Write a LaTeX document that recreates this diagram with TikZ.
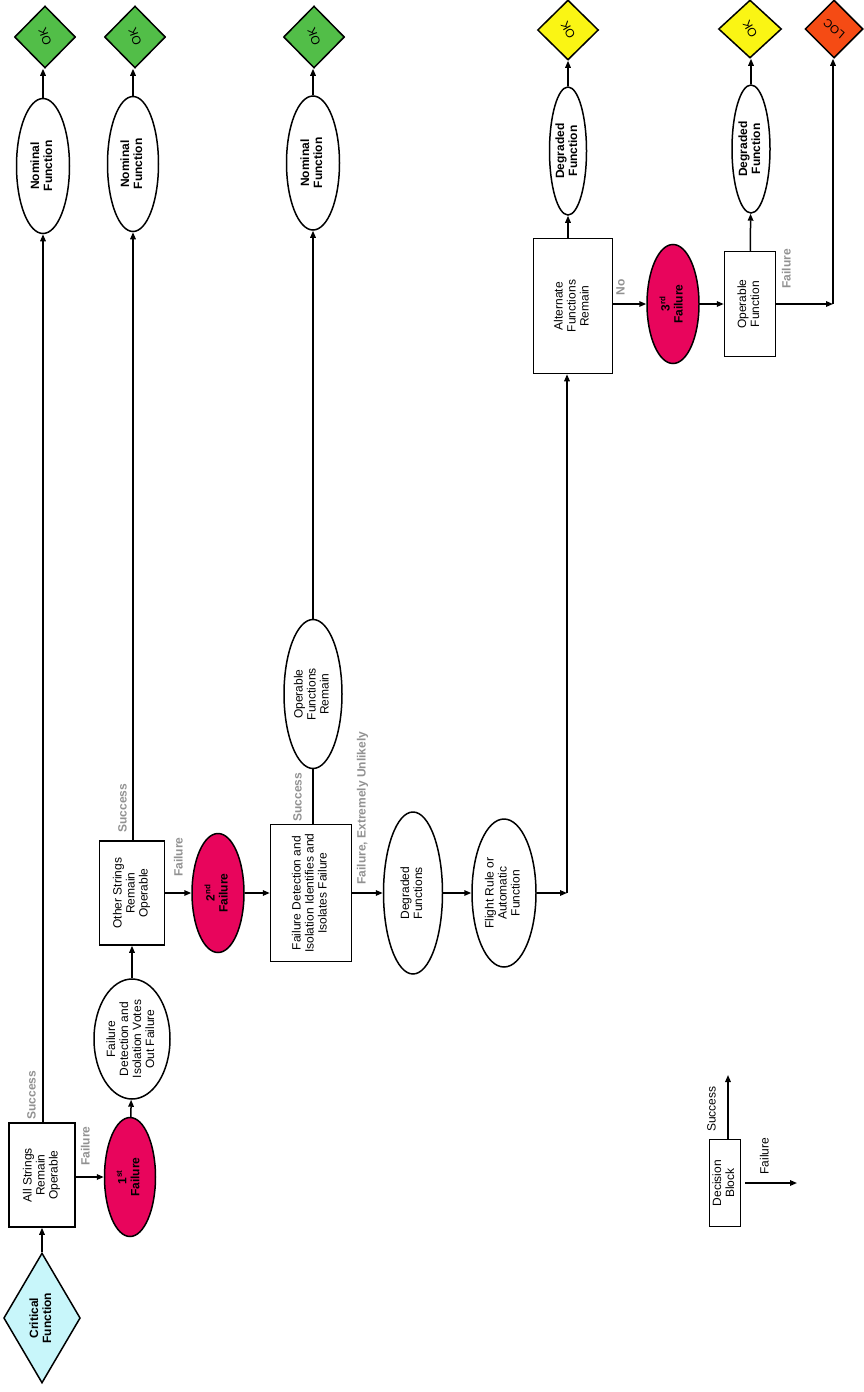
\documentclass[tikz,border=0pt]{standalone}
\usepackage{fontspec}
\setmainfont{Liberation Sans}
\usetikzlibrary{shapes.geometric,arrows.meta,calc}
\definecolor{cyanf}{RGB}{200,246,250}
\definecolor{greenf}{RGB}{82,190,72}
\definecolor{yellowf}{RGB}{250,245,20}
\definecolor{locf}{RGB}{245,75,20}
\definecolor{failf}{RGB}{232,5,92}
\definecolor{lblgray}{RGB}{145,145,145}
\newcommand\rt[1]{\rotatebox{90}{\begin{tabular}{@{}c@{}}#1\end{tabular}}}
\newcommand\rtok[2]{\rotatebox{#1}{#2}}
\begin{document}
\begin{tikzpicture}[x=1pt,y=-1pt,
  every node/.style={font=\fontsize{12}{13}\selectfont, inner sep=0pt},
  shp/.style={draw, line width=1.5pt, fill=white},
  box/.style={shp, rectangle},
  ell/.style={shp, ellipse},
  dia/.style={shp, diamond},
  okdia/.style={dia, minimum width=61, minimum height=62, font=\fontsize{12}{13}\selectfont},
  fail/.style={ell, fill=failf, font=\fontsize{12}{13}\selectfont\bfseries},
  bfn/.style={font=\fontsize{12}{13}\selectfont\bfseries},
  arr/.style={line width=1.5pt, -{Triangle[length=7pt,width=5.5pt]}},
  ln/.style={line width=1.5pt},
  lbl/.style={text=lblgray, font=\fontsize{12}{13}\selectfont\bfseries},
  leg/.style={text=black}]
\useasboundingbox (0,0) rectangle (863,1392);

% ---- column 1
\node[dia, fill=cyanf, bfn, minimum width=59, minimum height=130] (crit) at (42,1318) {\rt{Critical\\Function}};
\node[box, minimum width=66, minimum height=104] (all) at (42,1175) {\rt{All Strings\\Remain\\Operable}};
\node[ell, bfn, minimum width=53, minimum height=135] (nom1) at (43,166) {\rt{Nominal\\Function}};
\node[okdia, fill=greenf] (ok1) at (45,37) {\rtok{110}{OK}};
\node[fail, minimum width=51, minimum height=119] (f1) at (130,1177) {\rt{1\textsuperscript{st}\\Failure}};
\node[ell, minimum width=76, minimum height=120] (vote) at (132,1039) {\rt{Failure\\Detection and\\Isolation Votes\\Out Failure}};

% ---- column 2
\node[box, minimum width=65, minimum height=104] (other) at (132,893) {\rt{Other Strings\\Remain\\Operable}};
\node[ell, bfn, minimum width=51, minimum height=135] (nom2) at (133,164) {\rt{Nominal\\Function}};
\node[okdia, fill=greenf] (ok2) at (135,37) {\rtok{110}{OK}};
\node[fail, minimum width=52, minimum height=119] (f2) at (218,893) {\rt{2\textsuperscript{nd}\\Failure}};
\node[box, minimum width=81, minimum height=137] (fdi) at (311,893) {\rt{Failure Detection and\\Isolation Identifies and\\Isolates Failure}};
\node[ell, minimum width=58, minimum height=149] (opr) at (313,694) {\rt{Operable\\Functions\\Remain}};
\node[ell, bfn, minimum width=53, minimum height=134] (nom3) at (313,163) {\rt{Nominal\\Function}};
\node[okdia, fill=greenf] (ok3) at (314,37) {\rtok{110}{OK}};
\node[ell, minimum width=59, minimum height=162] (degf) at (413,893) {\rt{Degraded\\Functions}};
\node[ell, minimum width=64, minimum height=148] (flight) at (504,893) {\rt{Flight Rule or\\Automatic\\Function}};
\coordinate (c1) at (567,893);

% ---- column 3
\node[box, minimum width=79, minimum height=135] (alt) at (573,306) {\rt{Alternate\\Functions\\Remain}};
\node[ell, bfn, minimum width=37, minimum height=128] (deg1) at (568,151) {\rt{Degraded\\Function}};
\node[okdia, fill=yellowf, minimum height=60] (oky1) at (568,30) {\rtok{120}{OK}};
\node[fail, minimum width=52, minimum height=119] (f3) at (673,304) {\rt{3\textsuperscript{rd}\\Failure}};
\node[box, minimum width=51, minimum height=105] (opf) at (750,304) {\rt{Operable\\Function}};
\node[ell, bfn, minimum width=38, minimum height=128] (deg2) at (751,149) {\rt{Degraded\\Function}};
\node[okdia, fill=yellowf, minimum width=63, minimum height=58] (oky2) at (750,29) {\rtok{120}{OK}};
\node[dia, fill=locf, minimum width=58, minimum height=58, font=\fontsize{11.5}{13}\selectfont] (loc) at (834,29) {\rtok{140}{LOC}};
\coordinate (c2) at (833,304);

% ---- connectors
\draw[arr] (crit) -- (all);
\draw[arr] (all.north -| nom1) -- (nom1);
\draw[arr] (nom1) -- (ok1.south -| nom1);
\draw[arr] (all.east |- f1) -- (f1);
\draw[arr] (f1) -- (vote);
\draw[arr] (vote) -- (other);
\draw[arr] (other.north -| nom2) -- (nom2);
\draw[arr] (nom2) -- (ok2.south -| nom2);
\draw[arr] (other) -- (f2);
\draw[arr] (f2) -- (fdi);
\draw[ln] (fdi.north -| opr) -- (opr);
\draw[arr] (opr) -- (nom3);
\draw[arr] (nom3) -- (ok3.south -| nom3);
\draw[arr] (fdi) -- (degf);
\draw[arr] (degf) -- (flight);
\draw[arr] (flight) -- (c1);
\draw[arr] (c1) -- (c1 |- alt.south);
\draw[arr] (alt.north -| deg1) -- (deg1);
\draw[arr] (deg1) -- (oky1);
\draw[arr] (alt.east |- f3) -- (f3);
\draw[arr] (f3) -- (opf);
\draw[arr] (opf) -- (deg2);
\draw[arr] (deg2) -- (oky2.south -| deg2);
\draw[arr] (opf) -- (c2);
\draw[arr] (c2) -- (c2 |- loc.south);

% ---- labels
\node[lbl] (s1) at (33,1095) {\rt{Success}};
\node[lbl] (fl1) at (87,1146) {\rt{Failure}};
\node[lbl] (s2) at (124,808) {\rt{Success}};
\node[lbl] (fl2) at (180,857) {\rt{Failure}};
\node[lbl] (s3) at (299,797) {\rt{Success}};
\node[lbl] (fl3) at (363,808) {\rt{Failure, Extremely Unlikely}};
\node[lbl] (no) at (622,287) {\rt{No}};
\node[lbl] (fl4) at (788,269) {\rt{Failure}};

% ---- legend
\node[box, minimum width=31, minimum height=87] (dec) at (725,1183) {\rt{Decision\\Block}};
\coordinate (legs) at (728,1075);
\coordinate (legf0) at (745,1183);
\coordinate (legf) at (797,1183);
\draw[arr] (dec.north -| legs) -- (legs);
\draw[arr] (legf0) -- (legf);
\node[leg] (ls) at (713,1109) {\rt{Success}};
\node[leg] (lf) at (766,1156) {\rt{Failure}};
\end{tikzpicture}
\end{document}
